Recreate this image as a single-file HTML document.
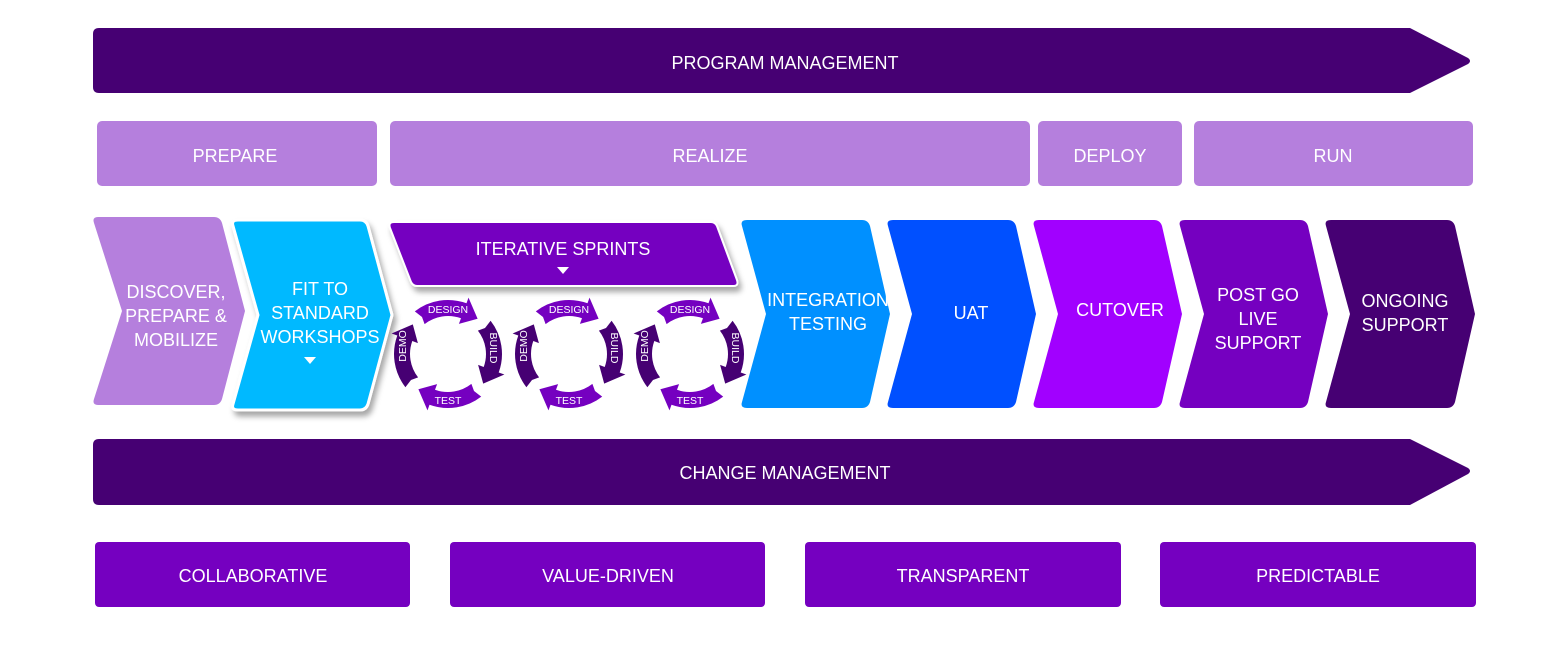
<!DOCTYPE html>
<html><head><meta charset="utf-8"><style>
html,body{margin:0;padding:0;background:#fff;}
svg{display:block;font-family:"Liberation Sans",sans-serif;}
</style></head><body>
<svg width="1555" height="665" viewBox="0 0 1555 665" xmlns="http://www.w3.org/2000/svg">
<defs>
<filter id="sh" x="-20%" y="-20%" width="140%" height="150%"><feDropShadow dx="3" dy="5" stdDeviation="3" flood-color="#000" flood-opacity="0.35"/></filter>
<path id="arr" d="M-33.2,-42.6 A54,54 0 0 1 18.5,-50.7 L20.5,-56.4 L29.6,-35.2 L10.9,-30.1 L13.0,-35.7 A38,38 0 0 0 -23.4,-29.9 L-26,-37 Z"/>
<g id="cyc">
  <use href="#arr" fill="#7500c0"/>
  <use href="#arr" fill="#460073" transform="rotate(90)"/>
  <use href="#arr" fill="#7500c0" transform="rotate(180)"/>
  <use href="#arr" fill="#460073" transform="rotate(270)"/>
  <text x="0" y="-41" font-size="10.5" fill="#fff" text-anchor="middle">DESIGN</text>
  <text x="0" y="50" font-size="10.5" fill="#fff" text-anchor="middle">TEST</text>
  <text transform="translate(42,-6) rotate(90)" font-size="10.5" fill="#fff" text-anchor="middle">BUILD</text>
  <text transform="translate(-42,-8) rotate(-90)" font-size="10.5" fill="#fff" text-anchor="middle">DEMO</text>
</g>
</defs>

<path d="M99,28 H1410 L1468,58 Q1472,61 1468,64 L1410,93 H99 Q93,93 93,87 V34 Q93,28 99,28 Z" fill="#460073"/>
<text x="785" y="69" font-size="18" fill="#fff" text-anchor="middle">PROGRAM MANAGEMENT</text>

<g fill="#b57fdd">
<rect x="97" y="121" width="280" height="65" rx="5"/>
<rect x="390" y="121" width="640" height="65" rx="5"/>
<rect x="1038" y="121" width="144" height="65" rx="5"/>
<rect x="1194" y="121" width="279" height="65" rx="5"/>
</g>
<g font-size="18" fill="#fff" text-anchor="middle">
<text x="235" y="162">PREPARE</text>
<text x="710" y="162">REALIZE</text>
<text x="1110" y="162">DEPLOY</text>
<text x="1333" y="162">RUN</text>
</g>

<path d="M98,217 H214 Q220,217 222,223 L245,311 L222,399 Q220,405 214,405 H98 Q92,405 94,399 L122,311 L94,223 Q92,217 98,217 Z" fill="#b57fdd"/>
<g filter="url(#sh)">
<path d="M238,220 H360 Q366,220 368,226 L392,315 L368,404 Q366,410 360,410 H238 Q231,410 233,404 L258,315 L233,226 Q231,220 238,220 Z" fill="#00b9ff" stroke="#fff" stroke-width="3"/>
</g>
<path d="M747,220 H862 Q868,220 870,226 L890,314 L870,402 Q868,408 862,408 H747 Q740,408 742,402 L766,314 L742,226 Q740,220 747,220 Z" fill="#0090ff"/>
<path d="M893,220 H1008 Q1014,220 1016,226 L1036,314 L1016,402 Q1014,408 1008,408 H893 Q886,408 888,402 L912,314 L888,226 Q886,220 893,220 Z" fill="#0050ff"/>
<path d="M1039,220 H1154 Q1160,220 1162,226 L1182,314 L1162,402 Q1160,408 1154,408 H1039 Q1032,408 1034,402 L1058,314 L1034,226 Q1032,220 1039,220 Z" fill="#a100ff"/>
<path d="M1185,220 H1300 Q1306,220 1308,226 L1328,314 L1308,402 Q1306,408 1300,408 H1185 Q1178,408 1180,402 L1204,314 L1180,226 Q1178,220 1185,220 Z" fill="#7500c0"/>
<path d="M1331,220 H1447 Q1453,220 1455,226 L1475,314 L1455,402 Q1453,408 1447,408 H1331 Q1324,408 1326,402 L1350,314 L1326,226 Q1324,220 1331,220 Z" fill="#460073"/>

<g font-size="18" fill="#fff" text-anchor="middle">
<text x="176" y="298">DISCOVER,</text>
<text x="176" y="322">PREPARE &amp;</text>
<text x="176" y="346">MOBILIZE</text>
<text x="320" y="295">FIT TO</text>
<text x="320" y="319">STANDARD</text>
<text x="320" y="343">WORKSHOPS</text>
<text x="828" y="306">INTEGRATION</text>
<text x="828" y="330">TESTING</text>
<text x="971" y="319">UAT</text>
<text x="1120" y="316">CUTOVER</text>
<text x="1258" y="301">POST GO</text>
<text x="1258" y="325">LIVE</text>
<text x="1258" y="349">SUPPORT</text>
<text x="1405" y="307">ONGOING</text>
<text x="1405" y="331">SUPPORT</text>
</g>
<polygon points="304,357 316,357 310,364" fill="#fff"/>

<g filter="url(#sh)">
<path d="M394,222 H711 Q715,222 717,226 L737,280 Q739,286 733,286 H417 Q413,286 411,282 L390,228 Q388,222 394,222 Z" fill="#7500c0" stroke="#fff" stroke-width="2"/>
</g>
<text x="563" y="255" font-size="18" fill="#fff" text-anchor="middle">ITERATIVE SPRINTS</text>
<polygon points="557,267 569,267 563,274" fill="#fff"/>

<use href="#cyc" transform="translate(448,354)"/>
<use href="#cyc" transform="translate(569,354)"/>
<use href="#cyc" transform="translate(690,354)"/>

<path d="M99,439 H1410 L1468,468 Q1472,471 1468,474 L1410,505 H99 Q93,505 93,499 V445 Q93,439 99,439 Z" fill="#460073"/>
<text x="785" y="479" font-size="18" fill="#fff" text-anchor="middle">CHANGE MANAGEMENT</text>

<g fill="#7500c0">
<rect x="95" y="542" width="315" height="65" rx="4"/>
<rect x="450" y="542" width="315" height="65" rx="4"/>
<rect x="805" y="542" width="316" height="65" rx="4"/>
<rect x="1160" y="542" width="316" height="65" rx="4"/>
</g>
<g font-size="18" fill="#fff" text-anchor="middle">
<text x="253" y="582">COLLABORATIVE</text>
<text x="608" y="582">VALUE-DRIVEN</text>
<text x="963" y="582">TRANSPARENT</text>
<text x="1318" y="582">PREDICTABLE</text>
</g>
</svg>
</body></html>
